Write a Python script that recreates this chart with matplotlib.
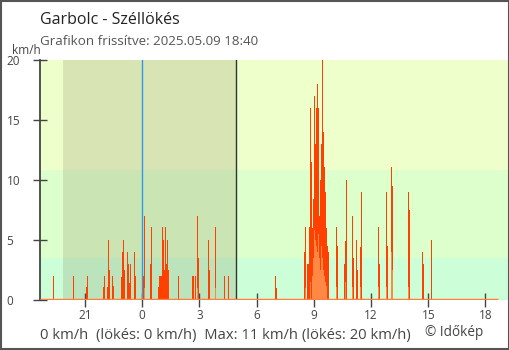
import matplotlib
matplotlib.use("Agg")
import matplotlib.pyplot as plt
from matplotlib.patches import Rectangle

plt.rcParams["font.family"] = ["Open Sans", "DejaVu Sans"]

# hours relative to midnight (negative = previous evening)
gust_t = [-4.67, -3.62, -2.94, -2.88, -2.05, -1.99, -1.84, -1.78, -1.73, -1.57, -1.52,
          -1.10, -1.05, -1.00, -0.94, -0.79, -0.73, -0.68, -0.63, -0.42, -0.37,
          0.05, 0.10, 0.42, 0.47, 0.84, 0.89, 0.94, 1.00, 1.05, 1.10, 1.15, 1.21, 1.26,
          1.31, 1.36, 1.89, 2.62, 2.67, 2.78, 2.88, 2.94, 3.46, 3.51, 3.83, 4.30, 4.51,
          6.97, 7.03,
          8.50, 8.55, 8.65, 8.71, 8.76, 8.81, 8.86, 8.92, 8.97, 9.02, 9.07, 9.12, 9.18,
          9.23, 9.28, 9.33, 9.39, 9.44, 9.49, 9.54, 9.60, 9.65, 9.70, 9.75,
          10.17, 10.22, 10.59, 10.65, 10.70, 11.01, 11.07, 11.22, 11.28, 11.43, 11.49,
          12.38, 12.43, 12.80, 12.85, 13.06, 13.11, 13.95, 14.00, 14.68, 14.73, 15.15]
gust_v = [2.0, 2.0, 1.1, 2.0, 1.1, 2.0, 1.1, 5.0, 2.5, 2.0, 1.2,
          1.9, 4.0, 5.0, 2.5, 4.0, 3.0, 1.4, 3.0, 4.0, 2.0,
          2.0, 7.0, 3.0, 6.1, 1.1, 2.0, 2.0, 2.0, 6.1, 5.0, 2.5, 6.1, 3.0,
          5.0, 2.5, 2.0, 2.0, 2.0, 2.0, 7.0, 3.5, 5.0, 2.5, 6.1, 2.0, 2.0,
          2.0, 1.0,
          4.0, 6.1, 3.0, 3.0, 6.1, 16.0, 11.5, 6.0, 8.4, 17.0, 13.0, 16.0, 18.0,
          16.0, 7.0, 10.0, 13.0, 20.0, 14.0, 11.1, 9.0, 6.0, 4.5, 4.0,
          6.1, 4.5, 3.0, 4.9, 10.0, 7.0, 3.5, 5.0, 2.5, 4.4, 9.0,
          6.1, 3.0, 9.0, 4.5, 11.1, 9.5, 9.0, 7.5, 4.0, 3.0, 5.0]

wind_t = [0.10, 2.88, 3.83, 8.55, 8.81, 8.92, 8.97, 9.02, 9.07, 9.12, 9.18, 9.23,
          9.28, 9.33, 9.39, 9.44, 9.49, 9.54, 9.60, 9.65,
          10.17, 10.65, 11.01, 11.43, 12.38, 12.80, 13.06, 13.11, 13.95]
wind_v = [1.0, 1.0, 1.0, 1.0, 1.5, 2.0, 3.5, 5.8, 5.0, 4.5, 4.0, 5.5,
          3.5, 2.5, 4.5, 3.5, 2.5, 2.0, 1.5, 1.2,
          1.1, 1.5, 1.1, 1.1, 1.1, 1.1, 4.0, 2.5, 1.1]

x_start, x_end = -5.36, 18.67      # 18:40 -> 18:40
night_start, night_end = -4.16, 4.91
bands = [(0, 3.5, "#ccffd8"), (3.5, 10.8, "#ddffcc"), (10.8, 20, "#eeffcc")]
xticks = [-3, 0, 3, 6, 9, 12, 15, 18]
xlabels = ["21", "0", "3", "6", "9", "12", "15", "18"]

fig = plt.figure(figsize=(5.1, 3.5), dpi=100)
ax = fig.add_axes([40 / 510, 50 / 350, 468 / 510, 240 / 350])
ax.set_xlim(x_start, 19.18)
ax.set_ylim(0, 20)

for lo, hi, c in bands:
    ax.axhspan(lo, hi, color=c, lw=0, zorder=0)
ax.axvspan(night_start, night_end, color="#807a50", alpha=0.2, lw=0, zorder=1)
ax.axvline(0, color="#3399ee", lw=1, zorder=2)
ax.axvline(night_end, color="#333333", lw=1, zorder=2)

ax.bar(gust_t, gust_v, width=0.05, color="#ff4000", lw=0, align="edge", zorder=3)
ax.bar(wind_t, wind_v, width=0.05, color="#ff8844", lw=0, align="edge", zorder=4)
ax.plot([x_start, x_end], [0, 0], color="#ff7f3f", lw=2.5, zorder=5, solid_capstyle="butt")

for s in ["top", "right", "bottom"]:
    ax.spines[s].set_visible(False)
ax.spines["left"].set_color("#444444")
ax.spines["left"].set_linewidth(1.3)

ax.set_yticks([0, 5, 10, 15, 20])
ax.tick_params(axis="y", direction="inout", length=10, width=1, color="#444444",
               labelsize=8.5, labelcolor="#444444", pad=19)
for lab in ax.get_yticklabels():
    lab.set_horizontalalignment("left")
ax.set_xticks(xticks)
ax.set_xticklabels(xlabels)
ax.tick_params(axis="x", direction="inout", length=9.5, width=1, color="#444444",
               labelsize=8.5, labelcolor="#444444", pad=2)

fig.text(40 / 510, 1 - 24 / 350, "Garbolc - Széllökés", fontsize=11.5, color="#222222", va="baseline")
fig.text(40 / 510, 1 - 45 / 350, "Grafikon frissítve: 2025.05.09 18:40", fontsize=9.6,
         color="#555555", va="baseline")
fig.text(12 / 510, 1 - 54.5 / 350, "km/h", fontsize=8.5, color="#444444", va="baseline")
fig.text(40 / 510, 1 - 339 / 350, "0 km/h  (lökés: 0 km/h)  Max: 11 km/h (lökés: 20 km/h)",
         fontsize=10.6, color="#444444", va="baseline")
fig.text(425 / 510, 1 - 336 / 350, "© Időkép", fontsize=9.8, color="#444444", va="baseline")

fig.patches.append(Rectangle((0.002, 0.004), 0.996, 0.992, transform=fig.transFigure,
                             fill=False, edgecolor="#555555", lw=1.5))

fig.savefig("out.png", dpi=100)
